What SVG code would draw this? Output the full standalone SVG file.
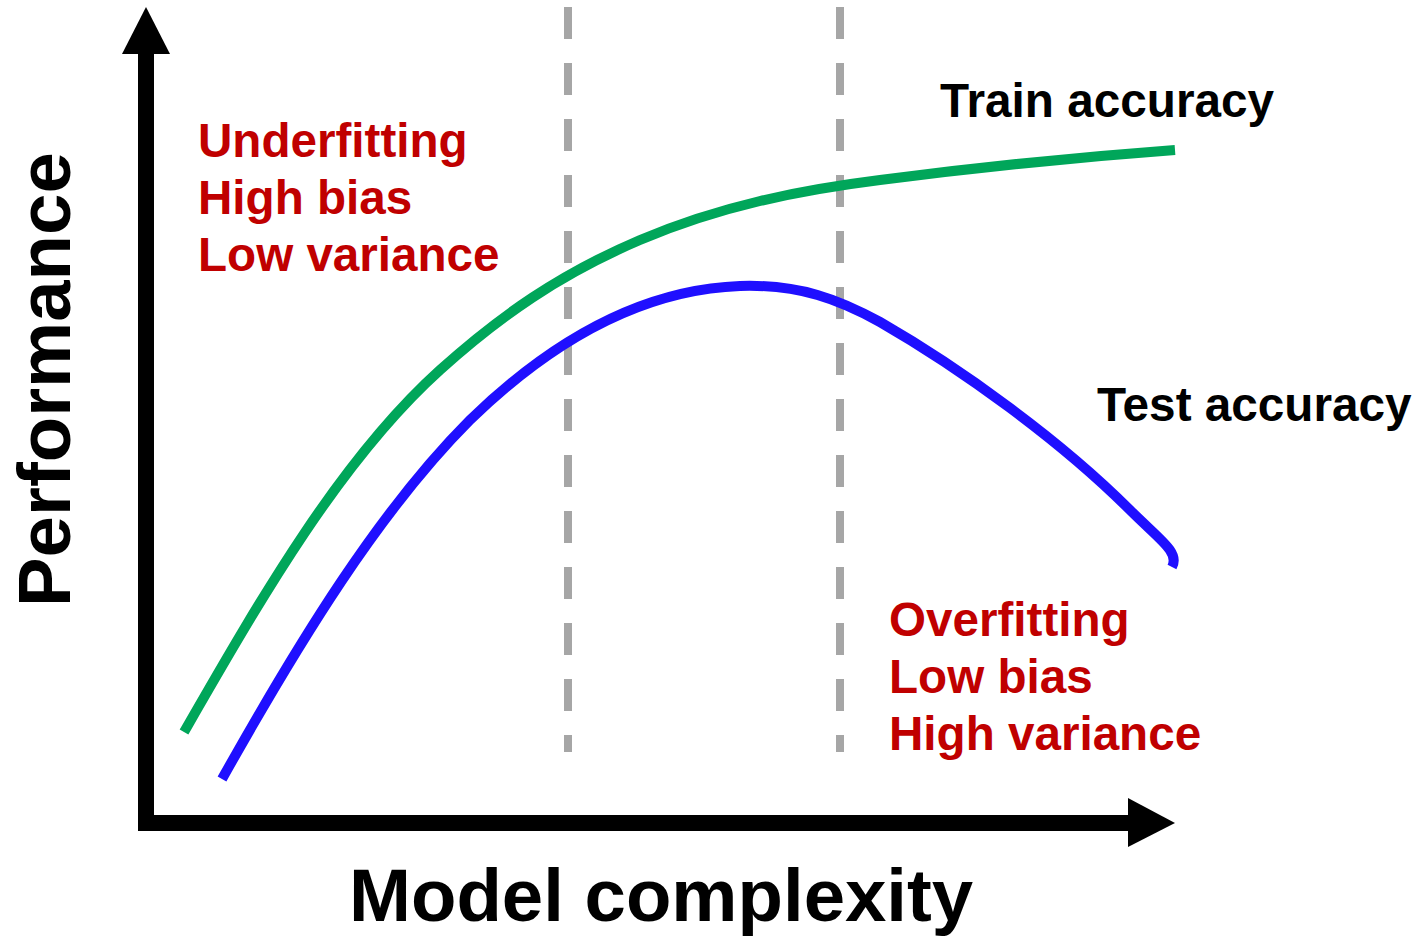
<svg xmlns="http://www.w3.org/2000/svg" width="1419" height="937" viewBox="0 0 1419 937">
<style>
.t{font-family:"Liberation Sans",Arial,sans-serif;font-weight:bold}
.red{fill:#c00000;font-size:47.6px}
.blk{fill:#000;font-size:47.7px}
.ax{fill:#000;font-size:74.4px}
.dash{stroke:#a6a6a6;stroke-width:8;stroke-dasharray:32 24;fill:none}
.curve{fill:none;stroke-width:10}
</style>
<rect width="1419" height="937" fill="#fff"/>
<g id="guides">
<line class="dash" x1="568" y1="7" x2="568" y2="752"/>
<line class="dash" x1="840" y1="7" x2="840" y2="752"/>
</g>
<g id="axes">
<line x1="146" y1="50" x2="146" y2="831" stroke="#000" stroke-width="16"/>
<polygon points="146,7 170,54 122,54" fill="#000"/>
<line x1="138" y1="823" x2="1132" y2="823" stroke="#000" stroke-width="16"/>
<polygon points="1175,823 1128,798 1128,847" fill="#000"/>
</g>
<g id="train-curve">
<path class="curve" stroke="#00a65a" d="M184,732 C260,600 340,460 440,370 C500,316 560,274 640,240 C720,206 800,190 880,180 C980,167 1080,157 1175,150"/>
</g>
<g id="test-curve">
<path class="curve" stroke="#1f0fff" d="M222,779 C300,640 380,510 470,420 C540,352 630,290 740,286 C800,284 840,300 880,322 C960,368 1060,440 1130,510 C1160,540 1180,552 1172,567"/>
</g>
<g id="labels">
<text class="t red" x="198" y="157">Underfitting</text>
<text class="t red" x="198" y="214">High bias</text>
<text class="t red" x="198" y="271">Low variance</text>
<text class="t red" x="889" y="636">Overfitting</text>
<text class="t red" x="889" y="693">Low bias</text>
<text class="t red" x="889" y="750">High variance</text>
<text class="t blk" x="940" y="117">Train accuracy</text>
<text class="t blk" x="1097" y="421">Test accuracy</text>
<text class="t ax" x="349" y="921">Model complexity</text>
<text class="t ax" transform="translate(70,607) rotate(-90)">Performance</text>
</g>
</svg>
